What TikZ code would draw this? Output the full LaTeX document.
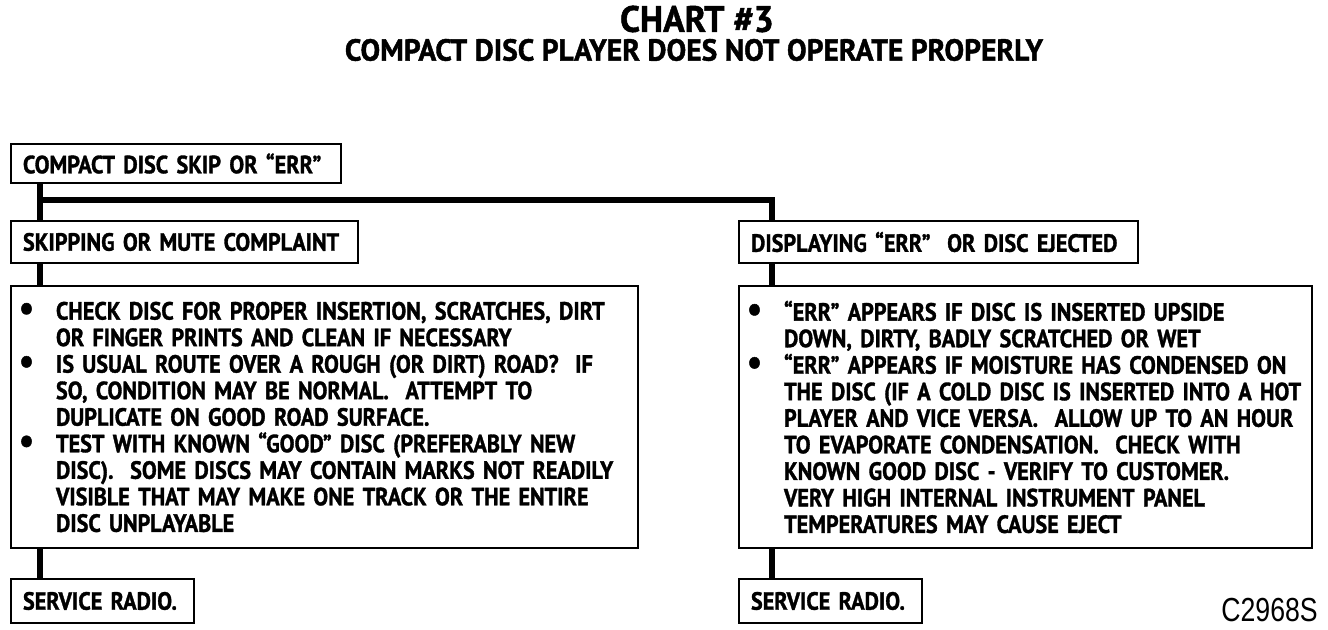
\documentclass[tikz,border=0pt]{standalone}
\usepackage{graphicx}
\usepackage{fontspec}
\setmainfont{PT Sans}[FakeStretch=0.89, BoldFeatures={FakeBold=1.3}]
\newfontfamily\titlefont{PT Sans}[FakeStretch=0.97, BoldFeatures={FakeBold=1.3}]
\newfontfamily\codefont{Liberation Sans}[FakeStretch=0.8]
\newcommand\bitem[1]{\makebox[27.75pt][l]{\raisebox{-0.6pt}{\scalebox{1.5}{•}}}#1}
\newcommand\cont[1]{\hspace*{27.75pt}#1}
\begin{document}
\begin{tikzpicture}[x=0.75pt,y=-0.75pt,
  box/.style={draw, line width=1.5pt, rectangle, anchor=north west, inner xsep=9pt, inner ysep=0pt, align=left, font=\bfseries\fontsize{18.7}{19.9}\selectfont},
  bodybox/.style={box, inner xsep=6pt},
  conn/.style={line width=4.5pt}]
\useasboundingbox (0,0) rectangle (1328,630);
\node[font=\titlefont\bfseries\fontsize{27.5}{30}\selectfont] (title) at (697,19) {CHART \#3};
\node[font=\titlefont\bfseries\fontsize{22.8}{25}\selectfont] (sub) at (694,50) {COMPACT DISC PLAYER DOES NOT OPERATE PROPERLY};
\node[box, minimum width=247.5pt, minimum height=29.25pt, text width=229.5pt] (b1) at (10,143) {COMPACT DISC SKIP OR “ERR”};
\node[box, minimum width=260.25pt, minimum height=31.5pt, text width=242.25pt] (b2) at (10,220) {SKIPPING OR MUTE COMPLAINT};
\node[box, minimum width=299.25pt, minimum height=31.5pt, text width=281.25pt] (b3) at (738,220) {DISPLAYING “ERR”\ \ OR DISC EJECTED};
\node[bodybox, minimum width=470.25pt, minimum height=196.5pt, text width=458.25pt] (b4) at (10,285) {%
\bitem{CHECK DISC FOR PROPER INSERTION, SCRATCHES, DIRT}\\
\cont{OR FINGER PRINTS AND CLEAN IF NECESSARY}\\
\bitem{IS USUAL ROUTE OVER A ROUGH (OR DIRT) ROAD?\ \ IF}\\
\cont{SO, CONDITION MAY BE NORMAL.\ \ ATTEMPT TO}\\
\cont{DUPLICATE ON GOOD ROAD SURFACE.}\\
\bitem{TEST WITH KNOWN “GOOD” DISC (PREFERABLY NEW}\\
\cont{DISC).\ \ SOME DISCS MAY CONTAIN MARKS NOT READILY}\\
\cont{VISIBLE THAT MAY MAKE ONE TRACK OR THE ENTIRE}\\
\cont{DISC UNPLAYABLE}};
\node[bodybox, minimum width=429.75pt, minimum height=196.5pt, text width=417.75pt] (b5) at (738,285) {%
\bitem{“ERR” APPEARS IF DISC IS INSERTED UPSIDE}\\
\cont{DOWN, DIRTY, BADLY SCRATCHED OR WET}\\
\bitem{“ERR” APPEARS IF MOISTURE HAS CONDENSED ON}\\
\cont{THE DISC (IF A COLD DISC IS INSERTED INTO A HOT}\\
\cont{PLAYER AND VICE VERSA.\ \ ALLOW UP TO AN HOUR}\\
\cont{TO EVAPORATE CONDENSATION.\ \ CHECK WITH}\\
\cont{KNOWN GOOD DISC - VERIFY TO CUSTOMER.}\\
\cont{VERY HIGH INTERNAL INSTRUMENT PANEL}\\
\cont{TEMPERATURES MAY CAUSE EJECT}};
\node[box, minimum width=137.25pt, minimum height=33pt, text width=119.25pt] (b6) at (10,578) {SERVICE RADIO.};
\node[box, minimum width=137.25pt, minimum height=33pt, text width=119.25pt] (b7) at (738,578) {SERVICE RADIO.};
\node[font=\codefont\fontsize{25}{28}\selectfont, anchor=south east, inner sep=0pt] (code) at (1318,622) {C2968S};
\coordinate (jl) at (40,200);
\coordinate (jr) at (772,200);
\draw[conn] (jl |- b1.south) -- (jl |- b2.north);
\draw[conn] (jl) -- (jr) -- (jr |- b3.north);
\draw[conn] (jl |- b2.south) -- (jl |- b4.north);
\draw[conn] (jl |- b4.south) -- (jl |- b6.north);
\draw[conn] (jr |- b3.south) -- (jr |- b5.north);
\draw[conn] (jr |- b5.south) -- (jr |- b7.north);
\end{tikzpicture}
\end{document}
